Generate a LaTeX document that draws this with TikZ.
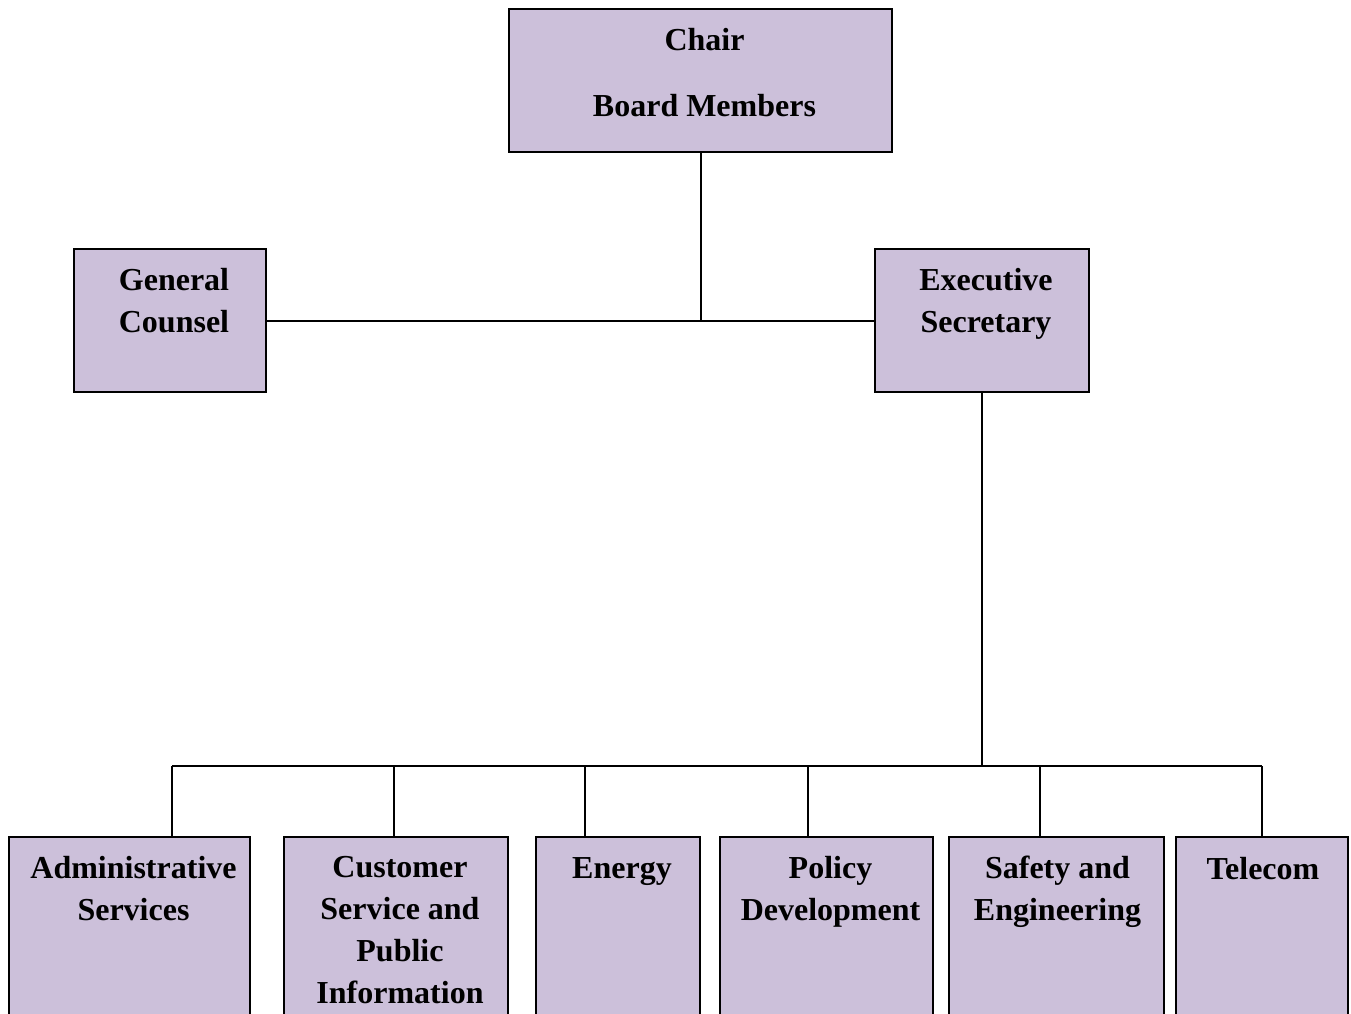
\documentclass[tikz,border=0pt]{standalone}
\usepackage{fontspec}
\setmainfont{Liberation Serif}
\usetikzlibrary{calc}
\definecolor{lav}{RGB}{204,192,218}
\begin{document}
\begin{tikzpicture}[x=1pt,y=-1pt,
  box/.style={draw=black, line width=2pt, fill=lav, inner sep=0pt, outer sep=0pt, anchor=north west},
  lbl/.style={font=\fontsize{32}{42}\selectfont\bfseries, align=center, inner sep=0pt, anchor=north},
  wire/.style={draw=black, line width=2pt}]
\useasboundingbox (0,0) rectangle (1351,1013);
\clip (0,0) rectangle (1351,1013);

% boxes
\node[box, minimum width=383pt, minimum height=143pt] (chair) at (509,9) {};
\node[box, minimum width=192pt, minimum height=143pt] (gc) at (74,249) {};
\node[box, minimum width=214pt, minimum height=143pt] (es) at (875,249) {};
\node[box, minimum width=241pt, minimum height=250pt] (adm) at (9,837) {};
\node[box, minimum width=224pt, minimum height=250pt] (cus) at (284,837) {};
\node[box, minimum width=164pt, minimum height=250pt] (ene) at (536,837) {};
\node[box, minimum width=213pt, minimum height=250pt] (pol) at (720,837) {};
\node[box, minimum width=215pt, minimum height=250pt] (saf) at (949,837) {};
\node[box, minimum width=172pt, minimum height=250pt] (tel) at (1176,837) {};

% labels
\node[lbl] (tchair) at ($(chair.north)+(4,19)$) {Chair\\[24pt]Board Members};
\node[lbl] (tgc) at ($(gc.north)+(4,19)$) {General\\Counsel};
\node[lbl] (tes) at ($(es.north)+(4,19)$) {Executive\\Secretary};
\node[lbl] (tadm) at ($(adm.north)+(4,19)$) {Administrative\\Services};
\node[lbl] (tcus) at ($(cus.north)+(4,19)$) {Customer\\Service and\\Public\\Information};
\node[lbl] (tene) at ($(ene.north)+(4,20)$) {Energy};
\node[lbl] (tpol) at ($(pol.north)+(4,19)$) {Policy\\Development};
\node[lbl] (tsaf) at ($(saf.north)+(1,19)$) {Safety and\\Engineering};
\node[lbl] (ttel) at ($(tel.north)+(1,20)$) {Telecom};

% connectors
\coordinate (j1) at (chair.south |- gc.east);
\draw[wire] (gc.east) -- (es.west);
\draw[wire] (chair.south) -- (j1);

\coordinate (d1) at (172,766);
\coordinate (d2) at (394,766);
\coordinate (d3) at (585,766);
\coordinate (d4) at (808,766);
\coordinate (d5) at (1040,766);
\coordinate (d6) at (1262,766);
\draw[wire] (es.south) -- (es.south |- d1);
\draw[wire] (d1) -- (d6);
\draw[wire] (d1) -- (d1 |- adm.north);
\draw[wire] (d2) -- (d2 |- cus.north);
\draw[wire] (d3) -- (d3 |- ene.north);
\draw[wire] (d4) -- (d4 |- pol.north);
\draw[wire] (d5) -- (d5 |- saf.north);
\draw[wire] (d6) -- (d6 |- tel.north);
\end{tikzpicture}
\end{document}
